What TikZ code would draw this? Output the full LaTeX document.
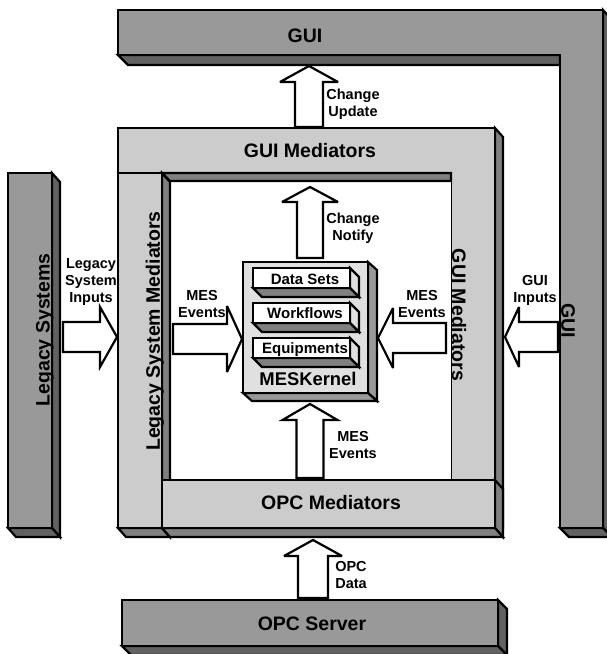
\documentclass[tikz,border=0pt]{standalone}
\usepackage{fontspec}
\setmainfont{Liberation Sans}
\usetikzlibrary{calc}
\definecolor{gmid}{HTML}{999999}
\definecolor{gdark}{HTML}{626262}
\definecolor{glight}{HTML}{CCCCCC}
\definecolor{gshade}{HTML}{808080}
\definecolor{gpale}{HTML}{E0E0E0}
\tikzset{
  outl/.style={draw=black, line width=2.2pt, line join=miter, miter limit=4},
  bigtxt/.style={font=\fontsize{19.5}{22}\selectfont\bfseries, inner sep=0pt},
  kertxt/.style={font=\fontsize{18.4}{21}\selectfont\bfseries, inner sep=0pt},
  boxtxt/.style={font=\fontsize{15}{17}\selectfont\bfseries, inner sep=0pt},
  arrtxt/.style={font=\fontsize{14.5}{17}\selectfont\bfseries, inner sep=0pt, align=center, anchor=north},
  barrow/.style={outl, fill=white},
}
% x0 y0 x1 y1 front right bottom dx dy
\newcommand\cuboid[9]{%
  \draw[outl, fill=#6] (#3,#2) -- ++(#8,#9) -- ++(0,{#4-#2}) -- (#3,#4) -- cycle;
  \draw[outl, fill=#7] (#1,#4) -- (#3,#4) -- ++(#8,#9) -- ++({#1-#3},0) -- cycle;
  \draw[outl, fill=#5] (#1,#2) rectangle (#3,#4);
}
% start, tip, half shaft, half head, head length
\newcommand\blockarr[5]{%
  \coordinate (ba-h) at ($(#2)!#5!(#1)$);
  \draw[barrow] ($(#1)!#3!90:(#2)$) -- ($(ba-h)!#3!90:(#2)$) -- ($(ba-h)!#4!90:(#2)$)
    -- (#2) -- ($(ba-h)!#4!-90:(#2)$) -- ($(ba-h)!#3!-90:(#2)$) -- ($(#1)!#3!-90:(#2)$) -- cycle;
}
\begin{document}
\begin{tikzpicture}[x=1pt,y=-1pt]
\useasboundingbox (0,0) rectangle (607,654);
% ---------- GUI (L shape) ----------
\draw[outl, fill=gdark] (118,55) -- (128,65) -- (560,65) -- (560,55) -- cycle;
\draw[outl, fill=gdark] (603,10) -- (612,20) -- (612,537) -- (603,528) -- cycle;
\draw[outl, fill=gdark] (560,528) -- (603,528) -- (612,537) -- (569,537) -- cycle;
\draw[outl, fill=gmid] (118,10) -- (603,10) -- (603,528) -- (560,528) -- (560,55) -- (118,55) -- cycle;
% ---------- Legacy Systems ----------
\cuboid{8}{173}{52}{528}{gmid}{gdark}{gdark}{8}{9}
% ---------- GUI Mediators frame ----------
\draw[outl, fill=gshade] (495,128) -- (503,137) -- (503,528) -- (495,528) -- cycle;
\draw[outl, fill=glight] (118,128) -- (495,128) -- (495,480) -- (451,480) -- (451,173) -- (118,173) -- cycle;
\fill[white] (162,173) rectangle (451,480);
\cuboid{118}{173}{162}{528}{glight}{gshade}{gshade}{8}{9}
\draw[outl, fill=gshade] (162,173) -- (451,173) -- (451,181) -- (170,181) -- cycle;
\cuboid{162}{480}{495}{528}{glight}{gshade}{gshade}{8}{9}
% ---------- OPC Server ----------
\cuboid{122}{600}{498}{646}{gmid}{gdark}{gdark}{9}{9}
% ---------- MES Kernel ----------
\cuboid{243}{262}{368}{393}{gpale}{gmid}{gmid}{9}{8}
\cuboid{253}{268}{350}{288}{white}{gpale}{gshade}{9}{9}
\cuboid{253}{303}{350}{323}{white}{gpale}{gshade}{9}{9}
\cuboid{253}{338}{350}{358}{white}{gpale}{gshade}{9}{9}
% ---------- connector end points ----------
\coordinate (upS) at (309,127);  \coordinate (upT) at (309,66);
\coordinate (ntS) at (310,258);  \coordinate (ntT) at (310,187);
\coordinate (mbS) at (310,478);  \coordinate (mbT) at (310,404);
\coordinate (opS) at (313,598);  \coordinate (opT) at (313,540);
\coordinate (lgS) at (63,337);   \coordinate (lgT) at (117,337);
\coordinate (mlS) at (173,339);  \coordinate (mlT) at (242,339);
\coordinate (mrS) at (446,338);  \coordinate (mrT) at (378,338);
\coordinate (giS) at (558,337);  \coordinate (giT) at (505,337);
% ---------- block arrows ----------
\blockarr{upS}{upT}{14pt}{29pt}{16pt}
\blockarr{ntS}{ntT}{13pt}{28pt}{15pt}
\blockarr{mbS}{mbT}{13.5pt}{27.5pt}{16pt}
\blockarr{opS}{opT}{15pt}{29pt}{16pt}
\blockarr{lgS}{lgT}{15pt}{30pt}{17pt}
\blockarr{mlS}{mlT}{15pt}{33pt}{15pt}
\blockarr{mrS}{mrT}{15pt}{30pt}{15pt}
\blockarr{giS}{giT}{15pt}{30pt}{14pt}
% ---------- texts ----------
\node[bigtxt, anchor=base] (guit) at (305,42) {GUI};
\node[bigtxt, anchor=base] (guimedt) at (310,157) {GUI Mediators};
\node[bigtxt, anchor=base] (opcmedt) at (331,509) {OPC Mediators};
\node[bigtxt, anchor=base] (opcsrvt) at (312,630) {OPC Server};
\node[kertxt, anchor=base] (kert) at (308,385) {MESKernel};
\node[boxtxt, anchor=base] (dst) at (305,284) {Data Sets};
\node[boxtxt, anchor=base] (wft) at (305,318) {Workflows};
\node[boxtxt, anchor=base] (eqt) at (305,353) {Equipments};
\node[bigtxt, rotate=90] (legt) at (45,330) {Legacy Systems};
\node[bigtxt, rotate=90] (legmedt) at (155,331) {Legacy System Mediators};
\node[bigtxt, rotate=-90] (guimedvt) at (459,315) {GUI Mediators};
\node[bigtxt, rotate=-90] (guivt) at (568,321) {GUI};
\node[arrtxt] (lup) at (353,89) {Change\\Update};
\node[arrtxt] (lnot) at (353,213) {Change\\Notify};
\node[arrtxt] (lmesb) at (353,431) {MES\\Events};
\node[arrtxt] (lleg) at (91,258) {Legacy\\System\\Inputs};
\node[arrtxt] (lmesl) at (202,290) {MES\\Events};
\node[arrtxt] (lmesr) at (422,290) {MES\\Events};
\node[arrtxt] (lgui) at (535,275) {GUI\\Inputs};
\node[arrtxt] (lopc) at (351,561) {OPC\\Data};
\end{tikzpicture}
\end{document}
